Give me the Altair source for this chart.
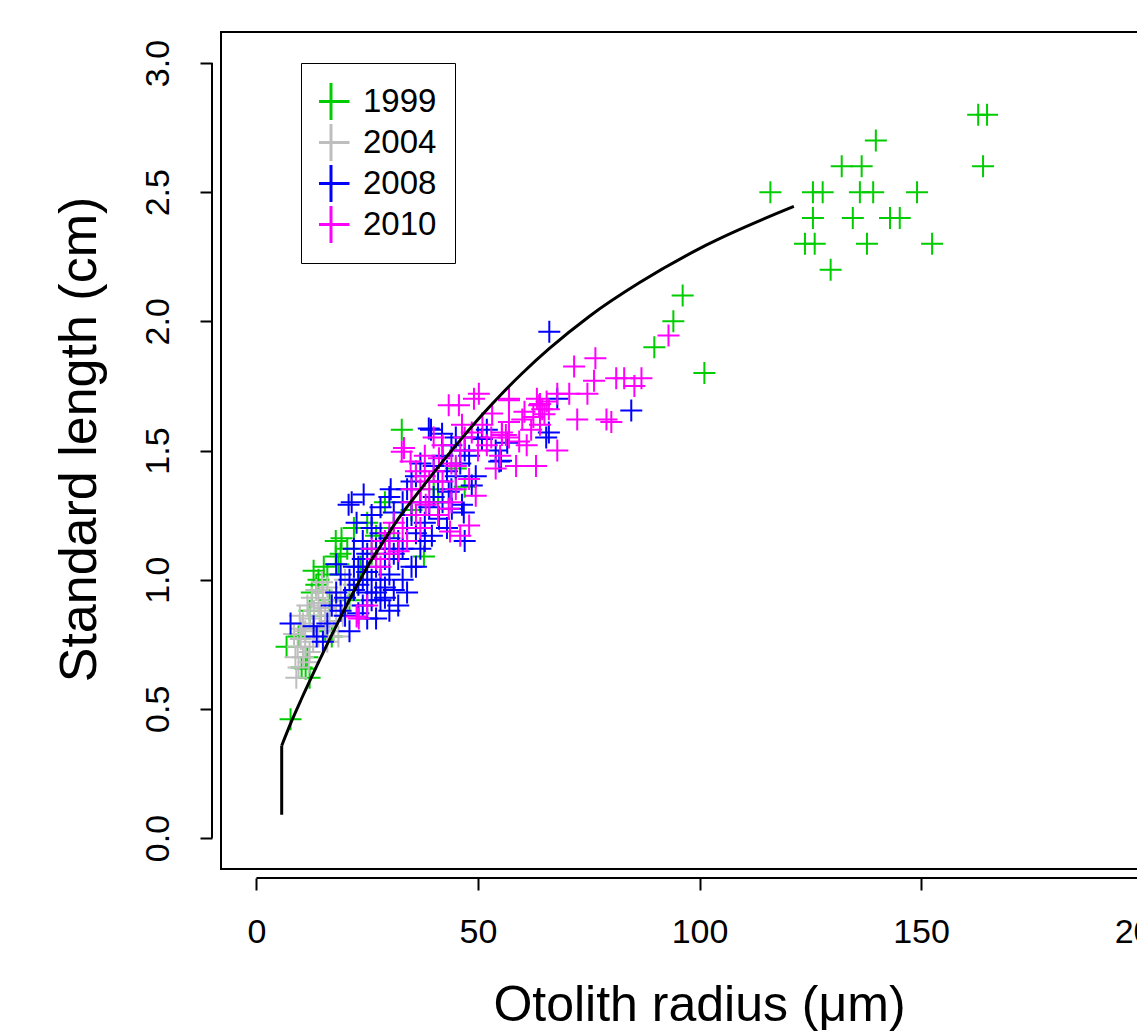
import altair as alt
import pandas as pd

# ---------------- data ----------------
years = ["1999", "2004", "2008", "2010"]
year_colors = ["#00CD00", "#BEBEBE", "#0000FF", "#FF00FF"]

g1999_x = [162.9, 164.9, 164.0, 139.8, 132.1, 136.6, 116.0, 125.6, 127.8, 136.2, 139.2, 149.1,
           125.6, 134.6, 143.0, 145.2, 123.8, 126.0, 137.8, 152.5, 129.6, 96.2, 94.1, 89.8, 101.1,
           7.7, 6.8, 9.5, 10.2, 11.1, 12.0, 11.5, 12.9, 15.2, 13.5, 12.5, 14.0, 16.0, 17.9, 17.9,
           19.0, 20.5, 18.5, 16.5, 14.5, 13.0, 15.5, 17.0, 19.2, 22.0, 25.0, 29.0, 32.8, 37.8,
           31.0, 27.0, 35.0, 40.0, 45.0, 47.0, 41.0, 21.0, 23.5, 26.0, 12.0]
g1999_y = [2.80, 2.80, 2.60, 2.70, 2.60, 2.60, 2.50, 2.50, 2.50, 2.50, 2.50, 2.50,
           2.40, 2.40, 2.40, 2.40, 2.30, 2.30, 2.30, 2.30, 2.20, 2.10, 2.00, 1.90, 1.80,
           0.46, 0.74, 0.78, 0.66, 0.655, 0.62, 0.70, 1.035, 1.05, 0.98, 0.95, 1.00, 1.02, 1.15, 1.09,
           1.10, 1.12, 1.06, 0.92, 0.86, 0.82, 0.80, 0.78, 1.16, 1.20, 1.22, 1.30, 1.58, 1.09,
           1.20, 1.17, 1.27, 1.35, 1.43, 1.36, 1.30, 0.92, 1.05, 1.10, 0.88]

g2004_x = [9.0, 9.5, 8.8, 9.3, 10.0, 8.5, 11.0, 10.5, 12.0, 9.8, 13.0, 11.5, 14.0, 12.5, 15.0,
           13.5, 16.0, 11.0, 12.0, 14.5, 15.5, 17.0, 16.5, 18.0, 13.0, 14.0, 17.5, 19.0, 14.8,
           10.5, 11.8, 15.5, 18.5, 19.5, 20.5, 16.0, 12.8, 10.0, 22.0, 20.0]
g2004_y = [0.62, 0.66, 0.70, 0.74, 0.77, 0.79, 0.80, 0.83, 0.85, 0.86, 0.88, 0.90, 0.91, 0.93, 0.95,
           0.96, 0.97, 0.74, 0.72, 0.86, 0.89, 0.92, 0.84, 0.88, 0.81, 0.78, 0.80, 0.95, 0.99,
           0.70, 0.68, 0.82, 0.78, 0.86, 0.90, 0.76, 0.76, 0.81, 0.98, 1.00]

g2008_x = [7.7, 13.6, 12.9, 15.0, 16.0, 17.0, 18.0, 19.0, 20.0, 21.0, 20.8, 22.6, 21.5, 24.2, 30.3,
           23.0, 22.0, 24.0, 25.0, 26.0, 27.0, 28.0, 29.0, 30.0, 31.0, 25.0, 24.0, 26.0, 27.0, 28.0,
           29.0, 32.0, 33.0, 34.0, 35.0, 36.0, 37.0, 38.0, 39.0, 40.0, 41.0, 42.0, 43.0, 44.0, 45.0,
           46.0, 47.0, 48.0, 49.5, 48.6, 43.4, 46.4, 41.2, 39.6, 44.1, 39.4, 41.9, 50.9, 54.0, 54.8,
           38.9, 46.8, 56.6, 55.2, 65.4, 66.0, 67.9, 66.1, 84.6, 52.0, 50.0, 33.0, 34.0, 32.0, 35.0,
           30.0, 27.0, 31.0, 23.0, 25.0, 19.0, 18.0, 22.0, 24.0, 26.0, 28.0, 29.0, 30.0, 33.0, 31.0,
           34.0, 36.0, 37.0, 35.0, 20.0, 21.0, 23.0, 25.0, 27.0, 29.0, 36.0, 38.0, 32.0, 26.0, 28.0,
           30.0, 42.0, 44.0, 45.0, 40.0, 37.0, 24.0, 22.0, 47.0, 43.0]
g2008_y = [0.83, 0.78, 0.82, 0.76, 0.83, 0.90, 0.95, 0.88, 0.93, 1.00, 1.29, 1.22, 1.30, 1.33, 1.35,
           1.05, 0.96, 0.90, 0.95, 1.00, 1.05, 0.92, 0.97, 1.02, 1.10, 1.10, 1.15, 1.20, 1.12, 1.18,
           1.08, 1.15, 1.12, 1.20, 1.25, 1.18, 1.30, 1.22, 1.28, 1.32, 1.38, 1.30, 1.42, 1.35, 1.40,
           1.45, 1.50, 1.48, 1.40, 1.365, 1.34, 1.29, 1.236, 1.17, 1.275, 1.58, 1.565, 1.545, 1.50, 1.457,
           1.585, 1.26, 1.53, 1.46, 1.55, 1.57, 1.70, 1.96, 1.655, 1.58, 1.55, 1.00, 0.95, 0.90, 1.05,
           0.88, 0.85, 0.96, 0.98, 1.03, 1.02, 1.06, 1.12, 1.08, 0.92, 1.00, 1.12, 1.16, 1.30, 1.26,
           1.35, 1.40, 1.45, 1.38, 0.86, 0.80, 0.87, 0.85, 0.95, 0.93, 1.05, 1.15, 1.08, 1.25, 1.28,
           1.32, 1.48, 1.52, 1.55, 1.44, 1.12, 1.00, 1.05, 1.15, 1.20]

g2010_x = [22.6, 23.1, 25.0, 28.0, 30.0, 32.1, 33.0, 34.0, 35.0, 36.0, 37.0, 38.0, 39.0, 38.2, 43.4,
           48.0, 49.5, 48.0, 54.0, 45.0, 41.2, 55.4, 48.6, 57.0, 46.4, 53.2, 45.7, 57.0, 49.1, 50.2,
           43.4, 32.8, 34.8, 33.3, 40.0, 42.0, 44.0, 46.0, 47.0, 50.0, 52.0, 51.0, 53.0, 55.0, 57.0,
           58.6, 63.1, 67.9, 59.3, 56.3, 55.4, 60.0, 64.0, 65.0, 64.0, 66.0, 63.8, 64.5, 57.0, 63.3,
           67.9, 70.6, 74.7, 72.4, 79.0, 80.1, 71.7, 76.5, 76.2, 81.2, 83.0, 85.3, 86.9, 93.0, 62.0,
           61.0, 36.0, 38.0, 40.0, 42.0, 30.0, 31.0, 29.0, 27.0, 26.0, 35.0, 37.0, 39.0, 41.0, 44.0,
           45.0, 46.0, 43.7, 60.5, 62.5, 65.5]
g2010_y = [0.857, 0.85, 0.90, 1.05, 1.10, 1.11, 1.20, 1.15, 1.30, 1.25, 1.35, 1.40, 1.30, 1.29, 1.275,
           1.21, 1.325, 1.39, 1.43, 1.44, 1.47, 1.56, 1.57, 1.61, 1.60, 1.643, 1.675, 1.695, 1.70, 1.72,
           1.675, 1.495, 1.457, 1.51, 1.42, 1.38, 1.45, 1.50, 1.55, 1.50, 1.52, 1.60, 1.55, 1.48, 1.55,
           1.44, 1.44, 1.50, 1.535, 1.56, 1.57, 1.62, 1.68, 1.64, 1.60, 1.66, 1.675, 1.66, 1.70, 1.70,
           1.72, 1.72, 1.72, 1.62, 1.62, 1.61, 1.825, 1.857, 1.77, 1.78, 1.78, 1.75, 1.78, 1.945, 1.58,
           1.52, 1.42, 1.48, 1.55, 1.52, 1.18, 1.22, 1.15, 1.08, 1.12, 1.35, 1.20, 1.38, 1.25, 1.30,
           1.35, 1.17, 1.186, 1.65, 1.63, 1.69]

# fitted curve
curve_x = [5.7, 8.0, 10.2, 14.0, 18.8, 22.0, 25.3, 28.0, 32.0, 37.4, 42.0, 46.4, 51.0, 55.0,
           60.0, 66.0, 75.1, 86.4, 101.5, 121.3]
curve_y = [0.357, 0.455, 0.54, 0.68, 0.848, 0.955, 1.058, 1.13, 1.235, 1.357, 1.457, 1.548, 1.639,
           1.713, 1.799, 1.893, 2.019, 2.149, 2.295, 2.445]
stub_x = 5.7
stub_y = [0.09, 0.357]

x_ticks = [0, 50, 100, 150, 200]
y_ticks = [0.0, 0.5, 1.0, 1.5, 2.0, 2.5, 3.0]
x_title = "Otolith radius (\u03bcm)"
y_title = "Standard length (cm)"

# ---------------- build tables ----------------
rows = []
for yr, xs_, ys_ in [("1999", g1999_x, g1999_y), ("2004", g2004_x, g2004_y),
                     ("2008", g2008_x, g2008_y), ("2010", g2010_x, g2010_y)]:
    for i, (a, b) in enumerate(zip(xs_, ys_)):
        rows.append({"r": a, "sl": b, "year": yr, "ord": years.index(yr) * 1000 + i})
pts = pd.DataFrame(rows)
curve = pd.DataFrame({"r": curve_x, "sl": curve_y})
stub = pd.DataFrame({"r": [stub_x], "sl": [stub_y[0]], "sl2": [stub_y[1]]})

FONT = "Liberation Sans"
W, H = 957, 837
XDOM = [-8, 208]
YDOM = [-0.12, 3.12]
PLUS = "M-1,0L1,0M0,-1L0,1"

xs = alt.Scale(domain=XDOM, nice=False, zero=False)
ys = alt.Scale(domain=YDOM, nice=False, zero=False)

x_axis = alt.Axis(values=x_ticks, format="d", domain=False, grid=False, offset=9,
                  tickSize=12, tickWidth=2, tickColor="black", labelFlush=False,
                  labelFontSize=34, labelFont=FONT, labelColor="black", labelPadding=25,
                  labelOverlap=False, labelBound=False,
                  title=x_title, titleFont=FONT, titleFontSize=50, titleFontWeight="normal",
                  titleColor="black", titleX=478, titleY=142, titleAlign="center",
                  titleBaseline="alphabetic")
y_axis = alt.Axis(values=y_ticks, format=".1f", domain=False, grid=False, offset=9,
                  tickSize=12, tickWidth=2, tickColor="black", labelFlush=False,
                  labelFontSize=34, labelFont=FONT, labelColor="black", labelPadding=25,
                  labelAngle=270, labelAlign="center", labelBaseline="bottom",
                  labelOverlap=False,
                  title=y_title, titleFont=FONT, titleFontSize=52, titleFontWeight="normal",
                  titleColor="black", titleAngle=270, titleX=-117, titleY=407,
                  titleAlign="center", titleBaseline="alphabetic")

points = alt.Chart(pts).mark_point(shape=PLUS, filled=False, size=484, strokeWidth=2,
                                   opacity=1).encode(
    x=alt.X("r:Q", scale=xs, axis=x_axis),
    y=alt.Y("sl:Q", scale=ys, axis=y_axis),
    color=alt.Color("year:N", scale=alt.Scale(domain=years, range=year_colors),
                    legend=alt.Legend(title=None, orient="none", legendX=80, legendY=31,
                                      symbolType=PLUS, symbolSize=1369, symbolStrokeWidth=3,
                                      symbolFillColor="transparent", symbolOffset=-8,
                                      labelFontSize=33, labelFont=FONT, labelColor="black",
                                      labelOffset=12, rowPadding=0, clipHeight=41, padding=18,
                                      strokeColor="black", fillColor="white")),
    order=alt.Order("ord:Q"),
)

line = alt.Chart(curve).mark_line(color="black", strokeWidth=3, interpolate="monotone").encode(
    x=alt.X("r:Q", scale=xs), y=alt.Y("sl:Q", scale=ys))
stub_rule = alt.Chart(stub).mark_rule(color="black", strokeWidth=3).encode(
    x=alt.X("r:Q", scale=xs), y=alt.Y("sl:Q", scale=ys), y2="sl2:Q")

# axis lines from first to last tick (as R draws them)
ax_df = pd.DataFrame({"x0": [x_ticks[0]], "x1": [x_ticks[-1]], "y0": [y_ticks[0]], "y1": [y_ticks[-1]]})
x_line = alt.Chart(ax_df).mark_rule(color="black", strokeWidth=2).encode(
    x=alt.X("x0:Q", scale=xs), x2="x1:Q", y=alt.value(H + 9))
y_line = alt.Chart(ax_df).mark_rule(color="black", strokeWidth=2).encode(
    y=alt.Y("y0:Q", scale=ys), y2="y1:Q", x=alt.value(-9))

chart = alt.layer(points, line, stub_rule, x_line, y_line).properties(
    width=W, height=H, background="white",
    autosize=alt.AutoSizeParams(type="none"),
    padding={"left": 221, "top": 32, "right": 1137 - 221 - W, "bottom": 163},
).configure_view(stroke="black", strokeWidth=2)

chart.save("out.html", embed_options={"renderer": "svg", "actions": False})
